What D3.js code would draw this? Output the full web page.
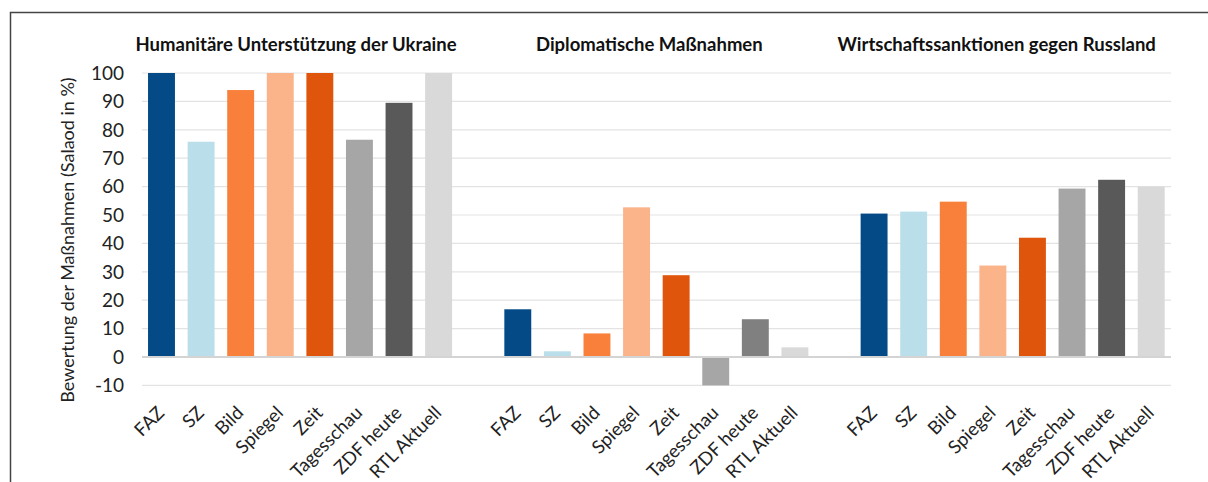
<!DOCTYPE html>
<html>
<head>
<meta charset="utf-8">
<script src="https://cdn.jsdelivr.net/npm/d3@7"></script>
<style>
  body { margin: 0; background: #fff; }
  svg { display: block; font-family: Lato, "Open Sans", sans-serif; }
</style>
</head>
<body>
<div id="chart"></div>
<script>
// data
var outlets = ["FAZ", "SZ", "Bild", "Spiegel", "Zeit", "Tagesschau", "ZDF heute", "RTL Aktuell"];
var groups = ["Humanitäre Unterstützung der Ukraine", "Diplomatische Maßnahmen", "Wirtschaftssanktionen gegen Russland"];
var humanitaer = [100, 75.8, 94, 100, 100, 76.5, 89.5, 100];
var diplomatie = [16.8, 2.0, 8.3, 52.7, 28.8, -10, 13.3, 3.4];
var sanktionen = [50.5, 51.2, 54.7, 32.2, 42.0, 59.3, 62.4, 60.0];
var yTicks = [-10, 0, 10, 20, 30, 40, 50, 60, 70, 80, 90, 100];

var colorsA = ["#044a87", "#bbdfea", "#f9803b", "#fbb38a", "#e0550c", "#a6a6a6", "#595959", "#d9d9d9"];
var colorsB = ["#044a87", "#bbdfea", "#f9803b", "#fbb38a", "#e0550c", "#a6a6a6", "#808080", "#d9d9d9"];
var groupColors = [colorsA, colorsB, colorsA];
var groupValues = [humanitaer, diplomatie, sanktionen];

var W = 1208, H = 482;
var svg = d3.select("#chart").append("svg")
  .attr("width", W).attr("height", H);

// outer frame: top and left edges only are in view
svg.append("path")
  .attr("d", "M10.5,490 V12.5 H1210")
  .attr("fill", "none").attr("stroke", "#444").attr("stroke-width", 1.5);

// one band per bar, with an empty slot between the groups
var domain = [];
var rows = [];
groups.forEach(function(g, gi) {
  outlets.forEach(function(o, oi) {
    var key = gi + "|" + o;
    domain.push(key);
    rows.push({ key: key, group: gi, outlet: o, value: groupValues[gi][oi], color: groupColors[gi][oi] });
  });
  if (gi < groups.length - 1) domain.push("gap" + gi);
});

var x = d3.scaleBand().domain(domain).range([141.7, 1171]).paddingInner(0.32).paddingOuter(0.16);
var y = d3.scaleLinear().domain([-10, 100]).range([385.4, 73]);

// grid
svg.append("g").selectAll("line")
  .data(yTicks.filter(function(t) { return t !== 0; }))
  .enter().append("line")
    .attr("x1", 142).attr("x2", 1171)
    .attr("y1", function(d) { return y(d); })
    .attr("y2", function(d) { return y(d); })
    .attr("stroke", "#e3e3e3").attr("stroke-width", 1.2);

// bars
svg.append("g").selectAll("rect")
  .data(rows)
  .enter().append("rect")
    .attr("x", function(d) { return x(d.key); })
    .attr("width", x.bandwidth())
    .attr("y", function(d) { return y(Math.max(0, d.value)); })
    .attr("height", function(d) { return Math.abs(y(d.value) - y(0)); })
    .attr("fill", function(d) { return d.color; });

// zero line
svg.append("line")
  .attr("x1", 142).attr("x2", 1171)
  .attr("y1", y(0)).attr("y2", y(0))
  .attr("stroke", "#d4d4d4").attr("stroke-width", 2);

// y tick labels
svg.append("g").selectAll("text")
  .data(yTicks)
  .enter().append("text")
    .attr("x", 124)
    .attr("y", function(d) { return y(d); })
    .attr("dy", "0.36em")
    .attr("text-anchor", "end")
    .attr("font-size", 19)
    .attr("fill", "#222")
    .text(function(d) { return d; });

// y axis title
svg.append("text")
  .attr("transform", "translate(74,240) rotate(-90)")
  .attr("text-anchor", "middle")
  .attr("font-size", 18)
  .attr("fill", "#222")
  .text("Bewertung der Maßnahmen (Salaod in %)");

// x labels, rotated
svg.append("g").selectAll("text")
  .data(rows)
  .enter().append("text")
    .attr("transform", function(d) {
      var cx = x(d.key) + x.bandwidth() / 2 + 4;
      return "translate(" + cx + ",414) rotate(-45)";
    })
    .attr("text-anchor", "end")
    .attr("font-size", 18.5)
    .attr("fill", "#222")
    .text(function(d) { return d.outlet; });

// group titles, sitting a little left of each group's centre
var titleNudge = [-4, -7, -16];
svg.append("g").selectAll("text")
  .data(groups)
  .enter().append("text")
    .attr("x", function(d, gi) {
      var a = x(gi + "|" + outlets[0]);
      var b = x(gi + "|" + outlets[outlets.length - 1]) + x.bandwidth();
      return (a + b) / 2 + titleNudge[gi];
    })
    .attr("y", 51)
    .attr("text-anchor", "middle")
    .attr("font-size", 18.5)
    .attr("font-weight", "bold")
    .attr("fill", "#111")
    .text(function(d) { return d; });
</script>
</body>
</html>
